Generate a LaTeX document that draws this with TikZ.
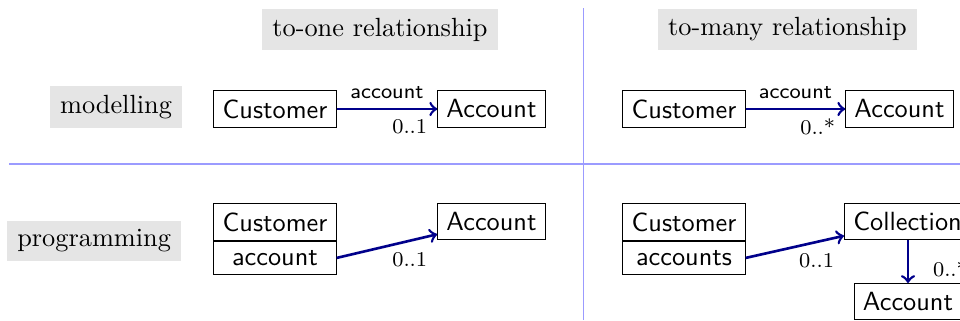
\documentclass[tikz,border=0pt]{standalone}
\usetikzlibrary{shapes.multipart}
\definecolor{navyline}{RGB}{0,0,139}
\definecolor{seplinecol}{RGB}{155,155,255}
\tikzset{
  headbox/.style={fill=black!10, inner xsep=4pt, inner ysep=3.4pt, font=\normalsize},
  umlbox/.style={draw=black, line width=0.4pt, font=\sffamily, inner sep=3.33pt, fill=white},
  umlsplit/.style={umlbox, rectangle split, rectangle split parts=2},
  assoc/.style={draw=navyline, line width=1pt, ->},
  rolelbl/.style={font=\sffamily\footnotesize, text=black},
  multlbl/.style={font=\footnotesize, text=black},
  sepln/.style={draw=seplinecol, line width=0.6pt}
}
\begin{document}
\begin{tikzpicture}[x=0.38pt, y=-0.38pt]
\clip (0,0) rectangle (960,320);
% separators
\coordinate (hl) at (9,163.7);
\coordinate (hr) at (960,163.7);
\coordinate (vt) at (583.3,8);
\coordinate (vb) at (583.3,320);
\draw[sepln] (hl) -- (hr);
\draw[sepln] (vt) -- (vb);
% headings
\node[headbox] (h1) at (380,29.5) {to-one relationship};
\node[headbox] (h2) at (787.5,29.5) {to-many relationship};
\node[headbox, anchor=east] (r1) at (183,107) {modelling};
\node[headbox, anchor=east] (r2) at (182,241) {programming};
% modelling, to-one
\node[umlbox] (c1) at (275,109) {Customer};
\node[umlbox] (a1) at (491.5,109) {Account};
\draw[assoc] (c1) -- node[above, rolelbl] {account} node[pos=1, below left, multlbl] {0..1} (a1);
% modelling, to-many
\node[umlbox] (c2) at (684,109) {Customer};
\node[umlbox] (a2) at (899.5,109) {Account};
\draw[assoc] (c2) -- node[above, rolelbl] {account} node[pos=1, below left, multlbl] {0..*} (a2);
% programming, to-one
\node[umlsplit, anchor=north] (c3) at (275,203) {Customer\nodepart{two}account};
\node[umlbox] (a3) at (491.5,221.5) {Account};
\draw[assoc] (c3.two east) -- node[pos=1, below left, yshift=-3pt, multlbl] {0..1} (a3);
% programming, to-many
\node[umlsplit, anchor=north] (c4) at (684,203) {Customer\nodepart{two}accounts};
\node[umlbox, anchor=west] (coll) at (844,221.5) {Collection};
\node[umlbox, anchor=north] (a4) at (908,283) {Account};
\draw[assoc] (c4.two east) -- node[pos=1, below left, yshift=-3pt, multlbl] {0..1} (coll);
\draw[assoc] (coll.south -| a4) -- node[pos=1, anchor=base west, xshift=5.7pt, yshift=2.3pt, multlbl] {0..*} (a4);
\end{tikzpicture}
\end{document}
